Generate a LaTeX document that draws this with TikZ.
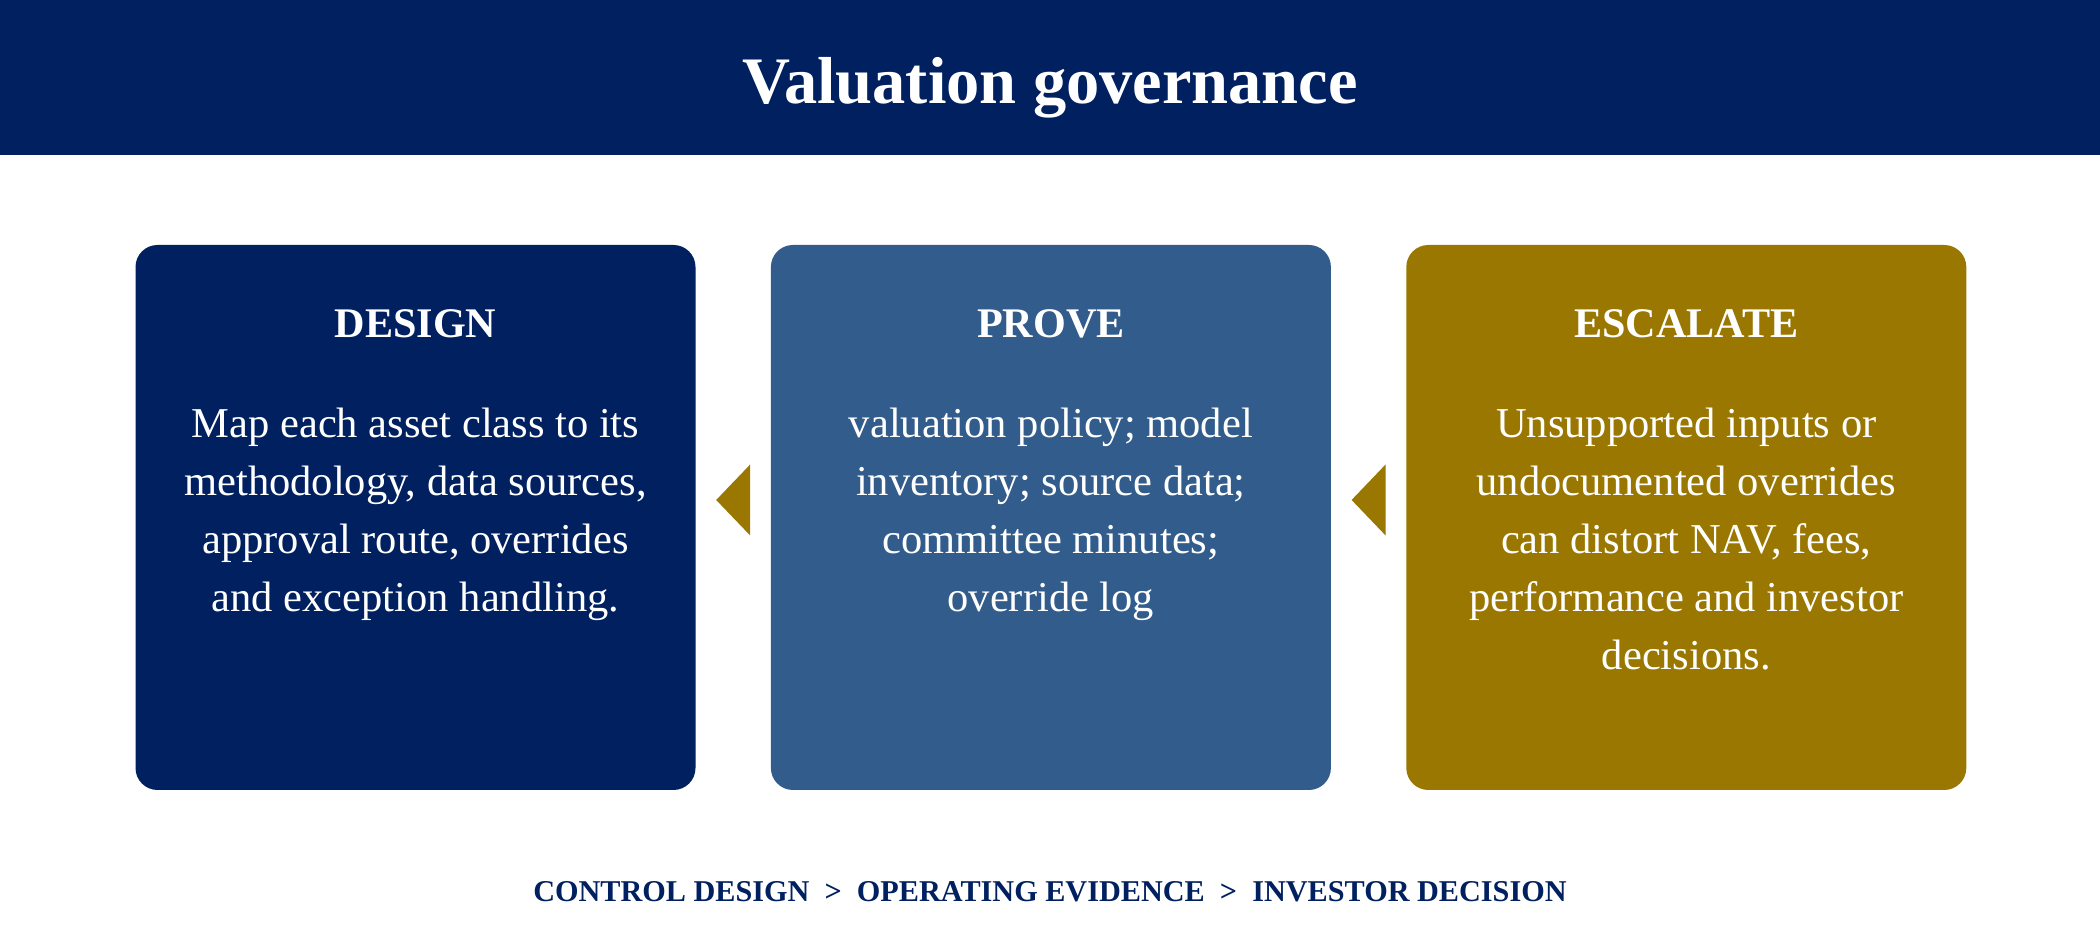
\documentclass[tikz,border=0pt]{standalone}
\usepackage{fontspec}
\setmainfont{Liberation Serif}
\usetikzlibrary{positioning,calc}

\definecolor{navy}{RGB}{0,32,96}
\definecolor{steel}{RGB}{50,92,139}
\definecolor{gold}{RGB}{153,119,0}

\begin{document}
\begin{tikzpicture}[card/.style={rectangle, rounded corners=0.22cm, inner sep=0pt,
		minimum width=5.6cm, minimum height=5.45cm},
		head/.style={text=white, font=\fontsize{12}{14}\selectfont\bfseries, inner sep=0pt},
		body/.style={text=white, align=center, inner sep=0pt,
		font=\fontsize{12.1}{16.5}\selectfont},
		flowtip/.pic={\fill[gold] (-0.17,0) -- (0.17,0.355) -- (0.17,-0.355) -- cycle;}]
	
		\useasboundingbox[fill=white] (0,0) rectangle (21,9.5);
		
		\node[fill=navy, inner sep=0pt, minimum width=21cm, minimum height=1.55cm] (band) at (10.5,8.725) {};
		\node[text=white, inner sep=0pt, anchor=base, font=\fontsize{18.9}{22}\selectfont\bfseries] (title) at (10.5,8.46) {Valuation governance};
		
		\node[card, fill=navy] (D) at (4.155,4.325) {};
		\node[card, fill=steel] (P) [right=0.74cm of D] {};
		\node[card, fill=gold] (E) [right=0.74cm of P] {};
		
		\node[head, anchor=base] (DH) at ([yshift=-0.93cm]D.north) {DESIGN};
		\node[head, anchor=base] (PH) at ([yshift=-0.93cm]P.north) {PROVE};
		\node[head, anchor=base] (EH) at ([yshift=-0.93cm]E.north) {ESCALATE};
		
		\node[body, anchor=north] (DB) at ([yshift=-1.63cm]D.north) {Map each asset class to its\\methodology, data sources,\\approval route, overrides\\and exception handling.};
		\node[body, anchor=north] (PB) at ([yshift=-1.63cm]P.north) {valuation policy; model\\inventory; source data;\\committee minutes;\\override log};
		\node[body, anchor=north] (EB) at ([yshift=-1.63cm]E.north) {Unsupported inputs or\\undocumented overrides\\can distort NAV, fees,\\performance and investor\\decisions.};
		
		\coordinate (A1) at ($(D.east)!0.5!(P.west)+(0,0.175)$);
		\coordinate (A2) at ($(P.east)!0.5!(E.west)+(0,0.175)$);
		\pic at (A1) {flowtip};
		\pic at (A2) {flowtip};
		
		\node[text=navy, anchor=base, inner sep=0pt, font=\fontsize{8.6}{10}\selectfont\bfseries] (foot) at (10.5,0.48) {CONTROL DESIGN~~>~~OPERATING EVIDENCE~~>~~INVESTOR DECISION};
		
	\end{tikzpicture}
\end{document}
